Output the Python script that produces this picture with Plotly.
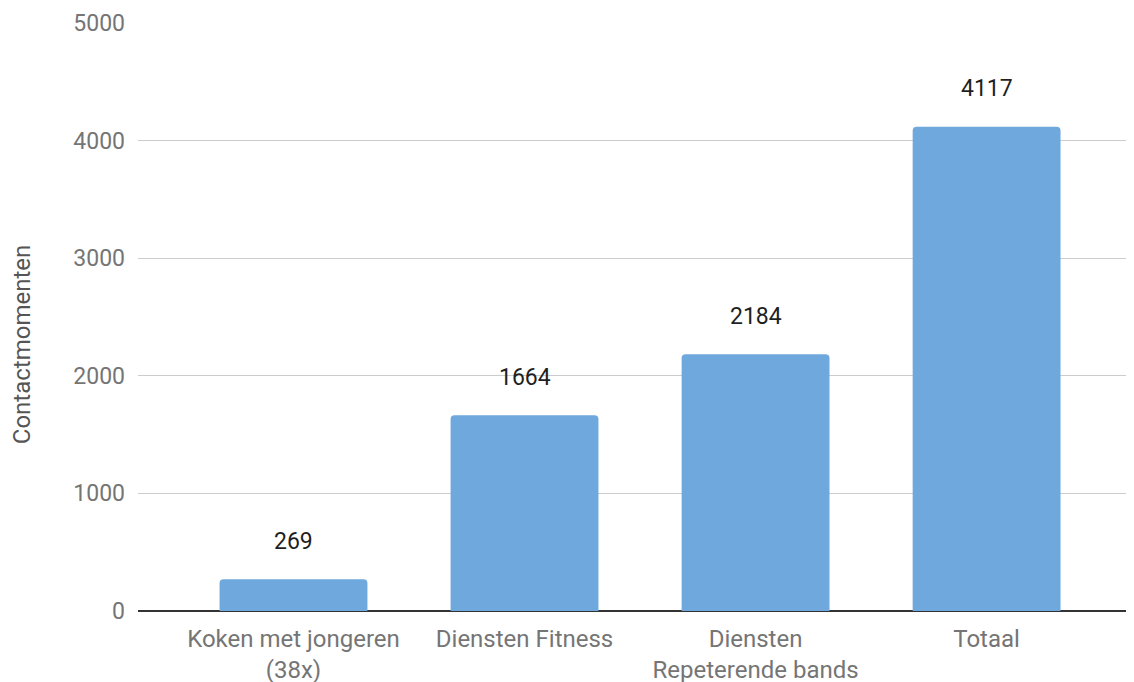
import plotly.graph_objects as go

categories = ["Koken met jongeren<br>(38x)", "Diensten Fitness", "Diensten<br>Repeterende bands", "Totaal"]
values = [269, 1664, 2184, 4117]
y_ticks = [0, 1000, 2000, 3000, 4000, 5000]
y_title = "Contactmomenten"

fig = go.Figure()
fig.add_trace(go.Bar(
    x=categories, y=values,
    marker=dict(color="#6fa8dc", cornerradius=4, line=dict(width=0)),
    hoverinfo="skip",
))

for c, v in zip(categories, values):
    fig.add_annotation(x=c, y=v, text=str(v), showarrow=False, yshift=38,
                       font=dict(family="Roboto", size=23, color="#1f1f1f"))

# y-axis title (placed slightly below the plot centre as in the reference)
fig.add_annotation(xref="paper", yref="paper", x=0, y=0.452, xshift=-116,
                   text=y_title, textangle=-90, showarrow=False,
                   xanchor="center", yanchor="middle",
                   font=dict(family="Roboto", size=24, color="#555555"))

fig.update_layout(
    width=1134, height=682,
    margin=dict(l=130, r=8, t=15, b=79),
    paper_bgcolor="white", plot_bgcolor="white",
    bargap=0.36,
    showlegend=False,
    font=dict(family="Roboto", size=23, color="#757575"),
)
fig.update_xaxes(
    range=[-0.673, 3.638], showgrid=False, automargin=False,
    showline=False, ticks="", ticklabelstandoff=11,
    tickfont=dict(size=24, color="#757575"),
)
fig.update_yaxes(
    range=[0, 5000], tickvals=y_ticks, ticktext=[str(t) for t in y_ticks],
    showgrid=True, gridcolor="#cccccc", gridwidth=1, automargin=False,
    zeroline=True, zerolinecolor="#333333", zerolinewidth=1.5,
    showline=False, ticks="", ticklabelstandoff=12,
    tickfont=dict(size=23, color="#757575"),
)

fig.write_html("out.html")
